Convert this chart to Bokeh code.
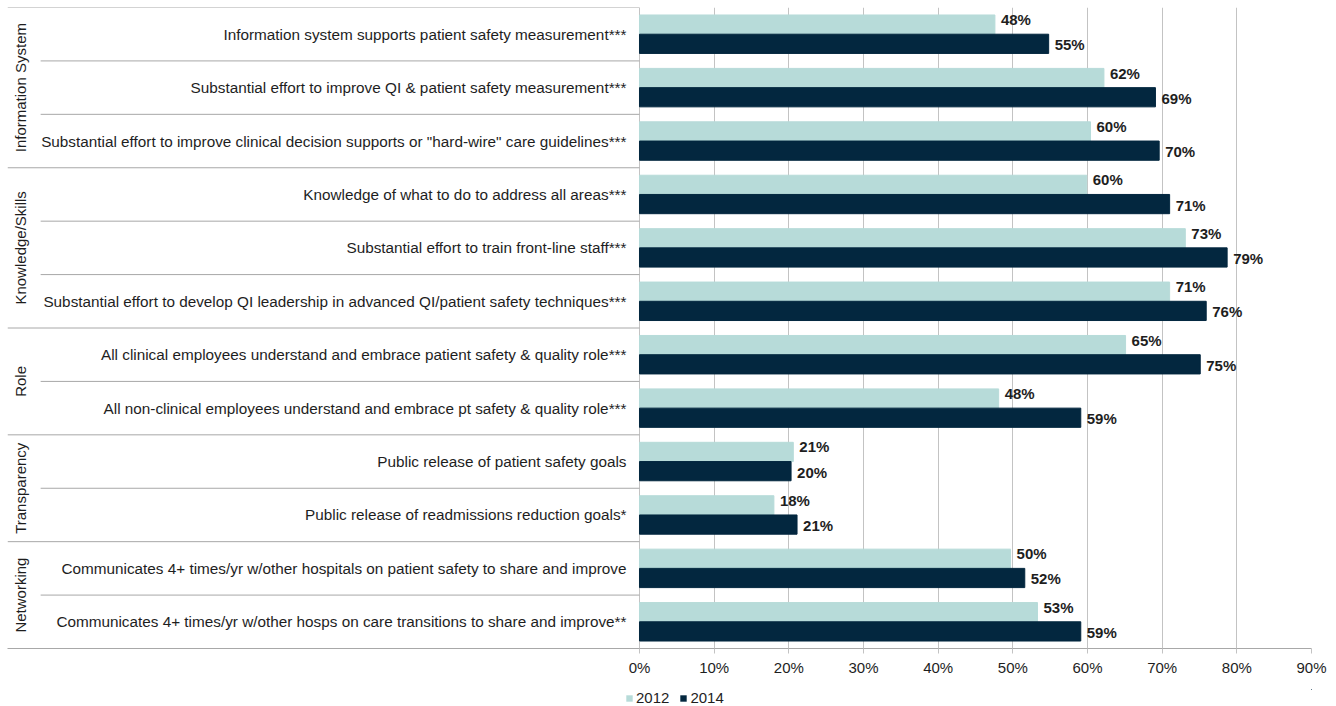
from bokeh.plotting import figure
from bokeh.layouts import column
from bokeh.models import (ColumnDataSource, Range1d, FixedTicker, PrintfTickFormatter,
                          Legend, LegendItem)
from bokeh.core.properties import value
from bokeh.embed import file_html
from bokeh.resources import INLINE

# ---------------- data ----------------
groups = ["Information System", "Information System", "Information System",
          "Knowledge/Skills", "Knowledge/Skills", "Knowledge/Skills",
          "Role", "Role",
          "Transparency", "Transparency",
          "Networking", "Networking"]
items = [
    "Information system supports patient safety measurement***",
    "Substantial effort to improve QI & patient safety measurement***",
    "Substantial effort to improve clinical decision supports or \"hard-wire\" care guidelines***",
    "Knowledge of what to do to address all areas***",
    "Substantial effort to train front-line staff***",
    "Substantial effort to develop QI leadership in advanced QI/patient safety techniques***",
    "All clinical employees understand and embrace patient safety & quality role***",
    "All non-clinical employees understand and embrace pt safety & quality role***",
    "Public release of patient safety goals",
    "Public release of readmissions reduction goals*",
    "Communicates 4+ times/yr w/other hospitals on patient safety to share and improve",
    "Communicates 4+ times/yr w/other hosps on care transitions to share and improve**",
]
v2012 = [47.6, 62.2, 60.4, 59.9, 73.1, 71.0, 65.1, 48.1, 20.6, 18.0, 49.7, 53.3]
v2014 = [54.8, 69.1, 69.6, 71.0, 78.7, 75.9, 75.1, 59.1, 20.3, 21.1, 51.6, 59.1]
series_names = ["2012", "2014"]
x_ticks = [0, 10, 20, 30, 40, 50, 60, 70, 80, 90]

# ---------------- style ----------------
C2012 = "#b7dbd9"
C2014 = "#03273f"
GRID = "#c3c3c3"
SEP = "#a8a8a8"
TXT = "#1e1e1e"
FONT = "Liberation Sans"
FS = "15px"

n = len(items)
idx = list(range(n))
X_LEFT = -84.64
ITEM_X0 = -80.2
BAR_H = 0.36
BAR_OFF = 0.18

p = figure(width=1336, height=689, output_backend="svg", toolbar_location=None,
           x_range=Range1d(X_LEFT, x_ticks[-1]), y_range=Range1d(n - 0.5, -0.5),
           min_border_left=7, min_border_top=7, min_border_right=25, min_border_bottom=41)
p.outline_line_color = None
p.yaxis.visible = False
p.ygrid.visible = False
p.background_fill_color = "white"
p.border_fill_color = "white"

# x axis / grid
p.xaxis.ticker = FixedTicker(ticks=x_ticks)
p.xgrid.ticker = FixedTicker(ticks=x_ticks)
p.xaxis.formatter = PrintfTickFormatter(format="%d%%")
p.xaxis.minor_tick_line_color = None
p.xaxis.major_tick_in = 0
p.xaxis.major_tick_out = 5
p.xaxis.major_tick_line_color = GRID
p.xaxis.axis_line_color = SEP
p.xaxis.major_label_text_font = FONT
p.xaxis.major_label_text_font_size = FS
p.xaxis.major_label_text_color = TXT
p.xaxis.major_label_standoff = 5
p.xgrid.grid_line_color = GRID
p.xgrid.grid_line_width = 1

# bars
src = ColumnDataSource(dict(
    y1=[i - BAR_OFF for i in idx], y2=[i + BAR_OFF for i in idx],
    v1=v2012, v2=v2014,
    l1=[f"{v:.0f}%" for v in v2012], l2=[f"{v:.0f}%" for v in v2014],
    item=items, yi=idx,
))
p.hbar(y="y1", right="v1", left=0, height=BAR_H, source=src,
       fill_color=C2012, line_color=C2012)
p.hbar(y="y2", right="v2", left=0, height=BAR_H, source=src,
       fill_color=C2014, line_color=C2014)

# data labels
for ycol, vcol, lcol, yoff in (("y1", "v1", "l1", -5), ("y2", "v2", "l2", 1)):
    p.text(x=vcol, y=ycol, text=lcol, source=src, x_offset=6, y_offset=yoff,
           text_align="left", text_baseline="middle",
           text_font=value(FONT), text_font_style="bold",
           text_font_size=FS, text_color=TXT)

# category labels
p.text(x=0, y="yi", text="item", source=src, x_offset=-13,
       text_align="right", text_baseline="middle",
       text_font=value(FONT), text_font_size="15.3px", text_color=TXT)

# separators of the left table
top_y = [-0.5]
grp_y, item_y = [], []
for i in range(1, n):
    if groups[i] != groups[i - 1]:
        grp_y.append(i - 0.5)
    else:
        item_y.append(i - 0.5)
p.segment(x0=[X_LEFT] * (len(grp_y) + 1), x1=[0] * (len(grp_y) + 1),
          y0=top_y + grp_y, y1=top_y + grp_y, line_color=SEP, line_width=1)
p.segment(x0=[ITEM_X0] * len(item_y), x1=[0] * len(item_y),
          y0=item_y, y1=item_y, line_color=SEP, line_width=1)

# group labels
g_names, g_centers = [], []
start = 0
for i in range(1, n + 1):
    if i == n or groups[i] != groups[start]:
        g_names.append(groups[start])
        g_centers.append((start + i - 1) / 2)
        start = i
p.text(x=[X_LEFT] * len(g_names), y=g_centers, text=g_names, x_offset=13,
       angle=1.5708, text_align="center", text_baseline="middle",
       text_font=value(FONT), text_font_size=FS, text_color=TXT)

# legend strip (separate small figure under the chart; its bars lie outside its range)
lg = figure(width=1336, height=17, output_backend="svg", toolbar_location=None,
            x_range=Range1d(-1000, -999), y_range=Range1d(-1000, -999),
            min_border_left=0, min_border_top=0, min_border_right=0, min_border_bottom=0)
lg.axis.visible = False
lg.grid.visible = False
lg.outline_line_color = None
e1 = lg.hbar(y="y1", right="v1", left=0, height=BAR_H, source=src,
             fill_color=C2012, line_color=None)
e2 = lg.hbar(y="y2", right="v2", left=0, height=BAR_H, source=src,
             fill_color=C2014, line_color=None)
legend = Legend(items=[LegendItem(label=series_names[0], renderers=[e1]),
                       LegendItem(label=series_names[1], renderers=[e2])],
                orientation="horizontal", location=(618, 0),
                glyph_width=8, glyph_height=8, label_text_font=FONT,
                label_text_font_size=FS, label_text_color=TXT,
                border_line_color=None, background_fill_alpha=0,
                padding=0, margin=0, spacing=10, label_standoff=3,
                label_height=16)
lg.add_layout(legend, "center")

layout = column(p, lg, spacing=0)
open("out.html", "w").write(file_html(layout, INLINE))
